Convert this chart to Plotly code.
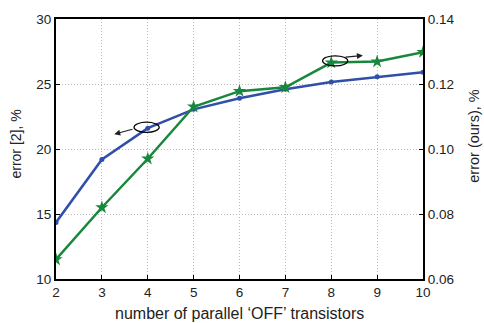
import plotly.graph_objects as go

x_vals = [2, 3, 4, 5, 6, 7, 8, 9, 10]
err_ref = [14.35, 19.2, 21.6, 23.05, 23.9, 24.6, 25.15, 25.55, 25.9]
err_ours = [0.066, 0.082, 0.097, 0.113, 0.1178, 0.119, 0.1266, 0.1269, 0.1298]

x_ticks = [2, 3, 4, 5, 6, 7, 8, 9, 10]
y_ticks = [10, 15, 20, 25, 30]
y2_ticks = [0.06, 0.08, 0.10, 0.12, 0.14]
y2_labels = ["0.06", "0.08", "0.10", "0.12", "0.14"]

BLUE = "#2f4fa8"
GREEN = "#17873c"
FONT = "Liberation Sans, Arial, sans-serif"

fig = go.Figure()
fig.add_trace(go.Scatter(x=x_vals, y=err_ref, mode="lines+markers",
                         line=dict(color=BLUE, width=2.5),
                         marker=dict(color=BLUE, size=5, symbol="circle"),
                         yaxis="y", showlegend=False))
fig.add_trace(go.Scatter(x=x_vals, y=err_ours, mode="lines+markers",
                         line=dict(color=GREEN, width=2.5),
                         marker=dict(color=GREEN, size=10, symbol="star"),
                         yaxis="y2", showlegend=False))

# ellipses
fig.add_shape(type="circle", xref="x", yref="y", x0=3.70, x1=4.25, y0=21.28, y1=22.06,
              line=dict(color="black", width=1.2))
fig.add_shape(type="circle", xref="x", yref="y", x0=7.81, x1=8.36, y0=26.39, y1=27.17,
              line=dict(color="black", width=1.2))
# arrows
fig.add_annotation(x=3.27, y=21.14, ax=3.70, ay=21.55, xref="x", yref="y", axref="x", ayref="y",
                   showarrow=True, arrowhead=2, arrowsize=1, arrowwidth=1.2, arrowcolor="#222", text="")
fig.add_annotation(x=8.69, y=27.2, ax=8.28, ay=27.05, xref="x", yref="y", axref="x", ayref="y",
                   showarrow=True, arrowhead=2, arrowsize=1, arrowwidth=1.2, arrowcolor="#222", text="")

# axis titles as annotations for exact placement
fig.add_annotation(text="number of parallel \u2018OFF\u2019 transistors", xref="paper", yref="paper",
                   x=0.5, y=0, yshift=-34, showarrow=False, font=dict(size=16),
                   xanchor="center", yanchor="middle")
fig.add_annotation(text="error [2], %", xref="paper", yref="paper", x=0, xshift=-39.5, y=0.519,
                   textangle=-90, showarrow=False, font=dict(size=14),
                   xanchor="center", yanchor="middle")
fig.add_annotation(text="error (ours), %", xref="paper", yref="paper", x=1, xshift=51, y=0.551,
                   textangle=-90, showarrow=False, font=dict(size=14.5),
                   xanchor="center", yanchor="middle")

grid = dict(showgrid=True, gridcolor="#bbbbbb", griddash="1px,2px", gridwidth=1)
fig.update_layout(
    width=484, height=323,
    margin=dict(l=56, r=61, t=15, b=44),
    paper_bgcolor="white", plot_bgcolor="white",
    font=dict(family=FONT, size=13.5, color="#222"),
    xaxis=dict(range=[2, 10], tickvals=x_ticks, showline=True, linecolor="black", linewidth=2,
               mirror=True, ticks="inside", ticklen=4, tickcolor="black", zeroline=False,
               **grid),
    yaxis=dict(range=[10, 30], tickvals=y_ticks, showline=True, linecolor="black", linewidth=2,
               ticks="inside", ticklen=4, tickcolor="black", zeroline=False,
               **grid),
    yaxis2=dict(range=[0.06, 0.14], tickvals=y2_ticks, ticktext=y2_labels, overlaying="y",
                side="right", showline=True, linecolor="black", linewidth=2,
                ticks="inside", ticklen=4, tickcolor="black", showgrid=False, zeroline=False),
)

fig.write_html("out.html", config={"displayModeBar": False},
               post_script="document.body.style.margin='0px';")
